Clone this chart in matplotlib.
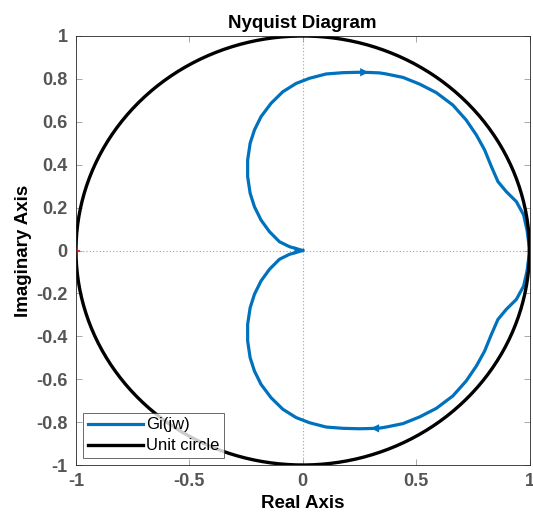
import numpy as np
import matplotlib
matplotlib.use("Agg")
import matplotlib.pyplot as plt

# Upper branch of Gi(jw), origin -> (1,0)
gi_x = [0.0, -0.059, -0.103, -0.147, -0.184, -0.213, -0.232, -0.243, -0.243,
        -0.232, -0.213, -0.184, -0.140, -0.088, -0.029, 0.030, 0.103, 0.177,
        0.250, 0.294, 0.339, 0.368, 0.442, 0.515, 0.589, 0.662, 0.721, 0.766,
        0.802, 0.832, 0.861, 0.898, 0.942, 0.974, 0.989, 0.996, 1.0]
gi_y = [0.0, 0.018, 0.041, 0.088, 0.142, 0.204, 0.267, 0.344, 0.422,
        0.500, 0.562, 0.624, 0.686, 0.740, 0.779, 0.803, 0.823, 0.829,
        0.831, 0.830, 0.828, 0.823, 0.807, 0.776, 0.736, 0.678, 0.608, 0.538,
        0.469, 0.391, 0.321, 0.274, 0.228, 0.166, 0.096, 0.04, 0.0]

x_ticks = [-1, -0.5, 0, 0.5, 1]
x_labels = ["-1", "-0.5", "0", "0.5", "1"]
y_ticks = [-1, -0.8, -0.6, -0.4, -0.2, 0, 0.2, 0.4, 0.6, 0.8, 1]
y_labels = ["-1", "-0.8", "-0.6", "-0.4", "-0.2", "0", "0.2", "0.4", "0.6", "0.8", "1"]

plt.rcParams['font.family'] = ['Liberation Sans', 'DejaVu Sans']

fig = plt.figure(figsize=(5.33, 5.21), dpi=100)
ax = fig.add_axes([76/533, 1-465/521, (529.5-76)/533, (465-36)/521])

blue = '#0072BD'
gx = np.array(gi_x)
gy = np.array(gi_y)
ax.plot(gx, gy, color=blue, lw=2.3, label='Gi(jw)', solid_joinstyle='round')
ax.plot(gx[::-1], -gy[::-1], color=blue, lw=2.3, solid_joinstyle='round')

# arrows
def arrow(x0, y0, x1, y1):
    ax.annotate('', xy=(x1, y1), xytext=(x0, y0),
                arrowprops=dict(arrowstyle='-|>', color=blue, lw=0, mutation_scale=15,
                                shrinkA=0, shrinkB=0))
arrow(0.24, 0.831, 0.29, 0.831)
arrow(0.35, -0.829, 0.30, -0.829)
arrow(-0.045, 0.0, 0.0, 0.0)

th = np.linspace(0, 2*np.pi, 500)
ax.plot(np.cos(th), np.sin(th), color='black', lw=2.4, label='Unit circle')

ax.axhline(0, color='#a0a0a0', lw=0.8, ls=(0, (1, 2)), zorder=0)
ax.axvline(0, color='#a0a0a0', lw=0.8, ls=(0, (1, 2)), zorder=0)
ax.plot([-1], [0], marker='+', color='red', ms=6, mew=1.2)

ax.set_xlim(-1, 1)
ax.set_ylim(-1, 1)
ax.set_xticks(x_ticks)
ax.set_xticklabels(x_labels)
ax.set_yticks(y_ticks)
ax.set_yticklabels(y_labels)
ax.tick_params(direction='in', top=True, right=True, length=4, width=0.6,
               colors='#9a9a9a', labelcolor='#555555', labelsize=13, pad=6)
for lab in ax.get_xticklabels() + ax.get_yticklabels():
    lab.set_fontweight('bold')
for s in ax.spines.values():
    s.set_color('#262626')
    s.set_linewidth(0.6)

ax.set_title('Nyquist Diagram', fontsize=13.5, fontweight='bold', pad=6)
ax.set_xlabel('Real Axis', fontsize=13.5, fontweight='bold', labelpad=3)
ax.set_ylabel('Imaginary Axis', fontsize=13.5, fontweight='bold', labelpad=3)

leg = ax.legend(loc='lower left', fontsize=12, frameon=True, fancybox=False,
                edgecolor='#262626', borderpad=0.3, handlelength=3.3,
                handletextpad=0.2, labelspacing=0.35, borderaxespad=0.4)
leg.get_frame().set_linewidth(0.6)

fig.savefig('out.png', dpi=100)
